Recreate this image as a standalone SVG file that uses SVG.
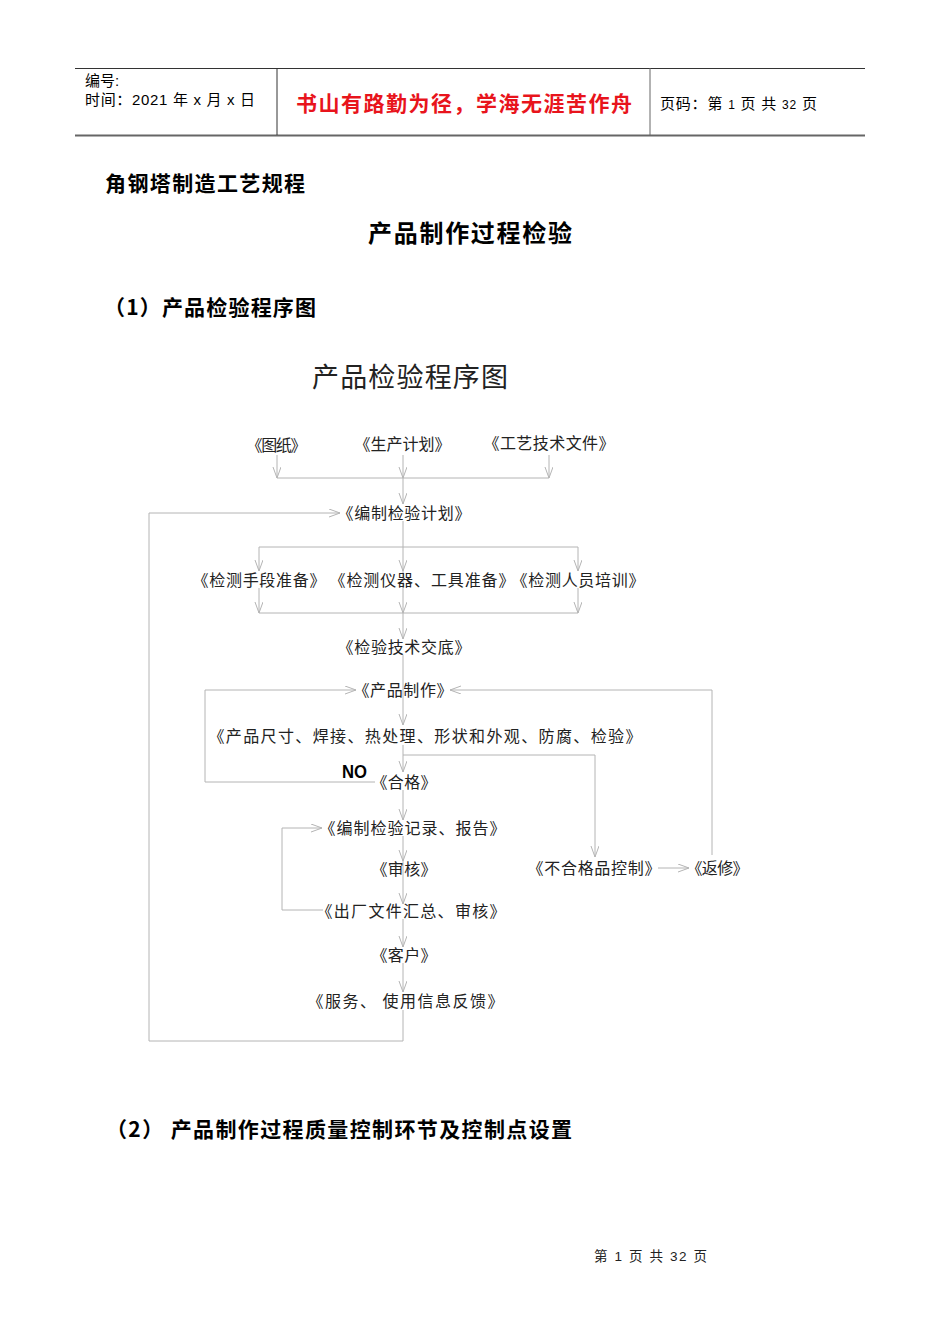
<svg xmlns="http://www.w3.org/2000/svg" width="950" height="1344" viewBox="0 0 950 1344">
<style>
text{text-spacing-trim:space-all}
.hd{font-family:"Liberation Sans","Noto Sans CJK SC",sans-serif;font-size:15px;fill:#000}
.red{font-family:"Noto Sans CJK SC",sans-serif;font-size:21px;font-weight:bold;fill:#e8141c}
.h{font-family:"Noto Sans CJK SC",sans-serif;font-weight:bold;fill:#000}
.lb{font-family:"Noto Sans CJK SC",sans-serif;font-size:16px;fill:#222;text-anchor:middle}
.ln{fill:none;stroke:#b4b4b4;stroke-width:1}
</style>
<defs>
<marker id="ar" markerWidth="12" markerHeight="10" refX="11" refY="4" orient="auto" markerUnits="userSpaceOnUse">
<path d="M0,0 L11,4 L0,8" fill="none" stroke="#b4b4b4" stroke-width="1"/>
</marker>
</defs>
<rect width="950" height="1344" fill="#fff"/>
<g id="header">
<line x1="75" y1="68.5" x2="865" y2="68.5" stroke="#333" stroke-width="1"/>
<line x1="75" y1="135.5" x2="865" y2="135.5" stroke="#666" stroke-width="2"/>
<line x1="277" y1="68" x2="277" y2="135" stroke="#333" stroke-width="1"/>
<line x1="650" y1="68" x2="650" y2="135" stroke="#666" stroke-width="1"/>
<text class="hd" x="85" y="86">编号:</text>
<text class="hd" x="85" y="105" textLength="170" lengthAdjust="spacing">时间：2021 年 x 月 x 日</text>
<text class="red" x="296" y="111" textLength="336" lengthAdjust="spacing">书山有路勤为径，学海无涯苦作舟</text>
<text class="hd" x="660" y="109" textLength="157" lengthAdjust="spacing">页码：第 <tspan font-size="12">1</tspan> 页 共 <tspan font-size="12">32</tspan> 页</text>
</g>
<g id="titles">
<text class="h" x="105" y="191" font-size="21" textLength="200" lengthAdjust="spacing">角钢塔制造工艺规程</text>
<text class="h" x="368" y="242" font-size="24" textLength="204" lengthAdjust="spacing">产品制作过程检验</text>
<text class="h" x="104" y="315" font-size="21" textLength="212" lengthAdjust="spacing">（1）产品检验程序图</text>
<text x="312" y="387" font-family="Noto Sans CJK SC,sans-serif" font-size="27" fill="#222" textLength="196" lengthAdjust="spacing">产品检验程序图</text>
<text class="h" x="106" y="1137" font-size="21" textLength="466" lengthAdjust="spacing">（2）  产品制作过程质量控制环节及控制点设置</text>
<text x="594" y="1261" font-family="Liberation Sans,Noto Sans CJK SC,sans-serif" font-size="13.5" fill="#222" textLength="113" lengthAdjust="spacing">第 1 页 共 32 页</text>
</g>
<g id="connectors">
<path class="ln" d="M277,455 V478" marker-end="url(#ar)"/>
<path class="ln" d="M403,455 V478" marker-end="url(#ar)"/>
<path class="ln" d="M549,455 V478" marker-end="url(#ar)"/>
<path class="ln" d="M277,478 H549"/>
<path class="ln" d="M403,478 V504" marker-end="url(#ar)"/>
<path class="ln" d="M149,1041 V513 H340" marker-end="url(#ar)"/>
<path class="ln" d="M403,521 V547"/>
<path class="ln" d="M259,547 H578"/>
<path class="ln" d="M259,547 V571" marker-end="url(#ar)"/>
<path class="ln" d="M403,547 V571" marker-end="url(#ar)"/>
<path class="ln" d="M578,547 V571" marker-end="url(#ar)"/>
<path class="ln" d="M259,588 V613" marker-end="url(#ar)"/>
<path class="ln" d="M403,571 V613" marker-end="url(#ar)"/>
<path class="ln" d="M578,588 V613" marker-end="url(#ar)"/>
<path class="ln" d="M259,613 H578"/>
<path class="ln" d="M403,613 V639" marker-end="url(#ar)"/>
<path class="ln" d="M403,655 V682"/>
<path class="ln" d="M375,782 H205 V690 H356" marker-end="url(#ar)"/>
<path class="ln" d="M712,855 V690 H450" marker-end="url(#ar)"/>
<path class="ln" d="M403,682 V725" marker-end="url(#ar)"/>
<path class="ln" d="M403,745 V772" marker-end="url(#ar)"/>
<path class="ln" d="M403,755 H595 V857" marker-end="url(#ar)"/>
<path class="ln" d="M403,790 V820" marker-end="url(#ar)"/>
<path class="ln" d="M323,910 H282 V828 H322" marker-end="url(#ar)"/>
<path class="ln" d="M403,836 V861" marker-end="url(#ar)"/>
<path class="ln" d="M403,861 V904" marker-end="url(#ar)"/>
<path class="ln" d="M403,919 V947" marker-end="url(#ar)"/>
<path class="ln" d="M403,963 V992" marker-end="url(#ar)"/>
<path class="ln" d="M403,1010 V1041 H149"/>
<path class="ln" d="M658,868 H689" marker-end="url(#ar)"/>
</g>
<g id="n-tuzhi"><text class="lb" x="276.5" y="451" textLength="60" lengthAdjust="spacing">《图纸》</text></g>
<g id="n-shengchan"><text class="lb" x="402.5" y="450" textLength="96" lengthAdjust="spacing">《生产计划》</text></g>
<g id="n-gongyi"><text class="lb" x="549" y="449" textLength="131" lengthAdjust="spacing">《工艺技术文件》</text></g>
<g id="n-bianzhi"><text class="lb" x="404" y="519" textLength="133" lengthAdjust="spacing">《编制检验计划》</text></g>
<g id="n-shouduan"><text class="lb" x="259" y="586" textLength="133" lengthAdjust="spacing">《检测手段准备》</text></g>
<g id="n-yiqi"><text class="lb" x="422" y="586" textLength="185" lengthAdjust="spacing">《检测仪器、工具准备》</text></g>
<g id="n-renyuan"><text class="lb" x="578" y="586" textLength="133" lengthAdjust="spacing">《检测人员培训》</text></g>
<g id="n-jiaodi"><text class="lb" x="404" y="653" textLength="133" lengthAdjust="spacing">《检验技术交底》</text></g>
<g id="n-zhizuo"><text class="lb" x="403" y="696" textLength="99" lengthAdjust="spacing">《产品制作》</text></g>
<g id="n-chicun"><text class="lb" x="425" y="742" textLength="433" lengthAdjust="spacing">《产品尺寸、焊接、热处理、形状和外观、防腐、检验》</text></g>
<g id="n-no"><text x="342" y="778" font-family="Liberation Sans,sans-serif" font-size="19" font-weight="bold" fill="#000" textLength="25" lengthAdjust="spacingAndGlyphs">NO</text></g>
<g id="n-hege"><text class="lb" x="404" y="788" textLength="65" lengthAdjust="spacing">《合格》</text></g>
<g id="n-jilu"><text class="lb" x="412.5" y="834" textLength="186" lengthAdjust="spacing">《编制检验记录、报告》</text></g>
<g id="n-shenhe"><text class="lb" x="404" y="875" textLength="65" lengthAdjust="spacing">《审核》</text></g>
<g id="n-buhege"><text class="lb" x="594" y="874" textLength="133" lengthAdjust="spacing">《不合格品控制》</text></g>
<g id="n-fanxiu"><text class="lb" x="717.5" y="874" textLength="62" lengthAdjust="spacing">《返修》</text></g>
<g id="n-chuchang"><text class="lb" x="411" y="917" textLength="189" lengthAdjust="spacing">《出厂文件汇总、审核》</text></g>
<g id="n-kehu"><text class="lb" x="404" y="961" textLength="65" lengthAdjust="spacing">《客户》</text></g>
<g id="n-fuwu"><text class="lb" x="405.5" y="1007" textLength="196" lengthAdjust="spacing">《服务、 使用信息反馈》</text></g>
</svg>
